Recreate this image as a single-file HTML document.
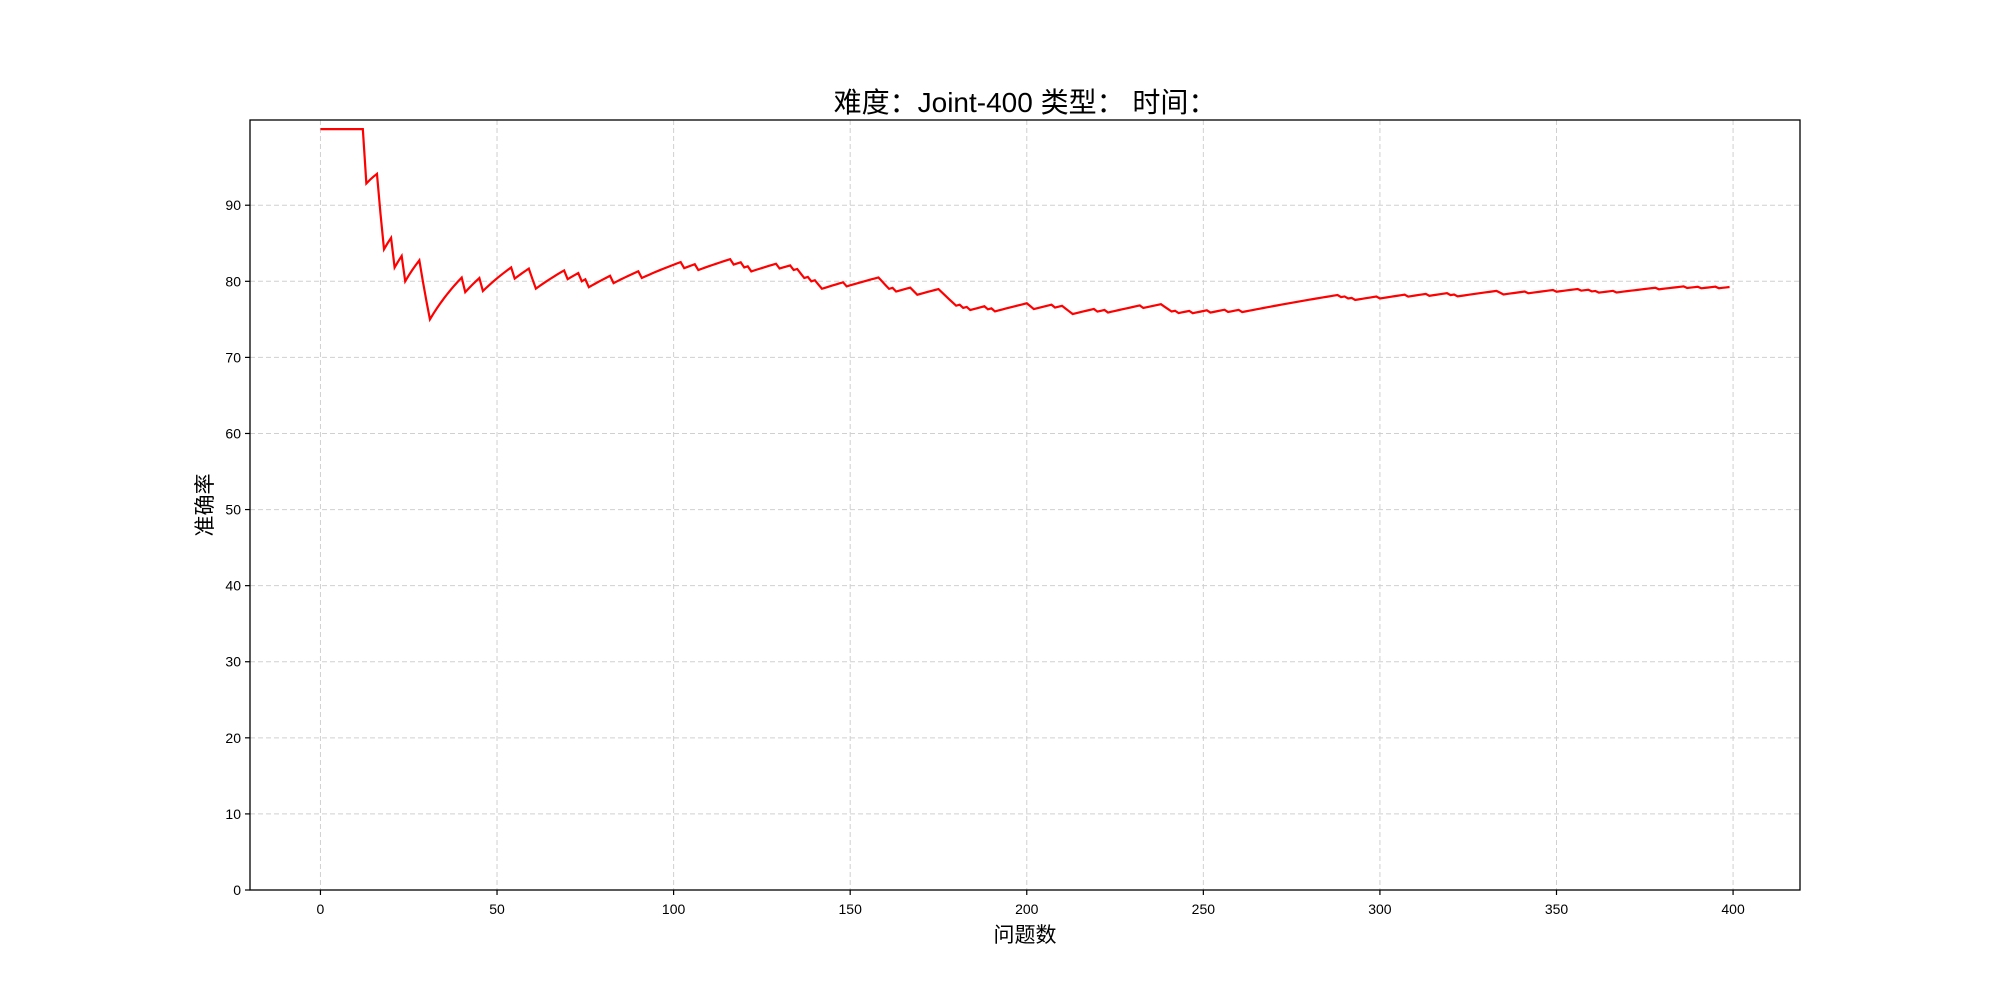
<!DOCTYPE html>
<html><head><meta charset="utf-8"><style>
html,body{margin:0;padding:0;background:#fff;}
svg{display:block;font-family:"Liberation Sans","Noto Sans CJK SC",sans-serif;}
</style></head><body>
<svg id="chart" width="2000" height="1000" xmlns="http://www.w3.org/2000/svg">
<rect x="0" y="0" width="2000" height="1000" fill="#fff"/>
<text x="1025" y="112" text-anchor="middle" font-size="28" fill="#000">难度：Joint-400 类型： 时间：</text>
<text x="1025" y="942" text-anchor="middle" font-size="21" fill="#000">问题数</text>
<text transform="translate(212,505) rotate(-90)" text-anchor="middle" font-size="21" fill="#000">准确率</text>
<g id="grid"></g>
<g id="ticks"></g>
<g id="series"></g>
<rect x="250" y="120" width="1550" height="770" fill="none" stroke="#000" stroke-width="1.3"/>
</svg>
<script>
const totalQuestions = 400;
const wrongIndices = [13,17,18,21,24,29,30,31,41,46,55,60,61,70,74,76,83,91,103,107,
117,120,122,130,134,136,137,139,141,142,149,159,160,161,163,168,169,176,177,178,179,180,182,184,189,191,
201,202,208,211,212,213,220,223,233,239,240,241,243,247,252,257,261,
289,291,293,300,308,314,320,322,334,335,342,350,357,360,362,367,379,387,391,396];
const xTicks = [0,50,100,150,200,250,300,350,400];
const yTicks = [0,10,20,30,40,50,60,70,80,90];

const NS = "http://www.w3.org/2000/svg";
const L=250,R=1800,T=120,B=890;
const xMin=-19.95,xMax=418.95,yMin=0,yMax=101.2;
function xs(v){return L+(v-xMin)/(xMax-xMin)*(R-L);}
function ys(v){return B-(v-yMin)/(yMax-yMin)*(B-T);}
function mk(tag,attrs,parent){const e=document.createElementNS(NS,tag);for(const k in attrs)e.setAttribute(k,attrs[k]);parent.appendChild(e);return e;}
const grid=document.getElementById('grid'),ticks=document.getElementById('ticks'),series=document.getElementById('series');
xTicks.forEach(t=>{
  const x=xs(t);
  const g=mk('line',{x1:x,x2:x,y1:T,y2:B,stroke:'#d0d0d0','stroke-width':1,'stroke-dasharray':'5,3'},grid);
  
  
  const tk=mk('line',{x1:x,x2:x,y1:B,y2:B+5,stroke:'#000','stroke-width':1.2},ticks);
  
  
  const lb=mk('text',{x:x,y:B+24,'text-anchor':'middle','font-size':14,fill:'#000'},ticks);
  lb.textContent=t;
  
  
});
yTicks.forEach(t=>{
  const y=ys(t);
  const g=mk('line',{x1:L,x2:R,y1:y,y2:y,stroke:'#d0d0d0','stroke-width':1,'stroke-dasharray':'5,3'},grid);
  
  
  const tk=mk('line',{x1:L-5,x2:L,y1:y,y2:y,stroke:'#000','stroke-width':1.2},ticks);
  
  
  const lb=mk('text',{x:L-9,y:y+5,'text-anchor':'end','font-size':14,fill:'#000'},ticks);
  lb.textContent=t;
  
  
});
const wrongSet=new Set(wrongIndices);
let correct=0;const pts=[];
for(let i=0;i<totalQuestions;i++){
  if(!wrongSet.has(i))correct++;
  const acc=correct/(i+1)*100;
  pts.push(xs(i).toFixed(2)+','+ys(acc).toFixed(2));
}
const line=mk('polyline',{points:pts.join(' '),fill:'none',stroke:'#ff0000','stroke-width':2.2,'stroke-linejoin':'miter'},series);


</script>
</body></html>
